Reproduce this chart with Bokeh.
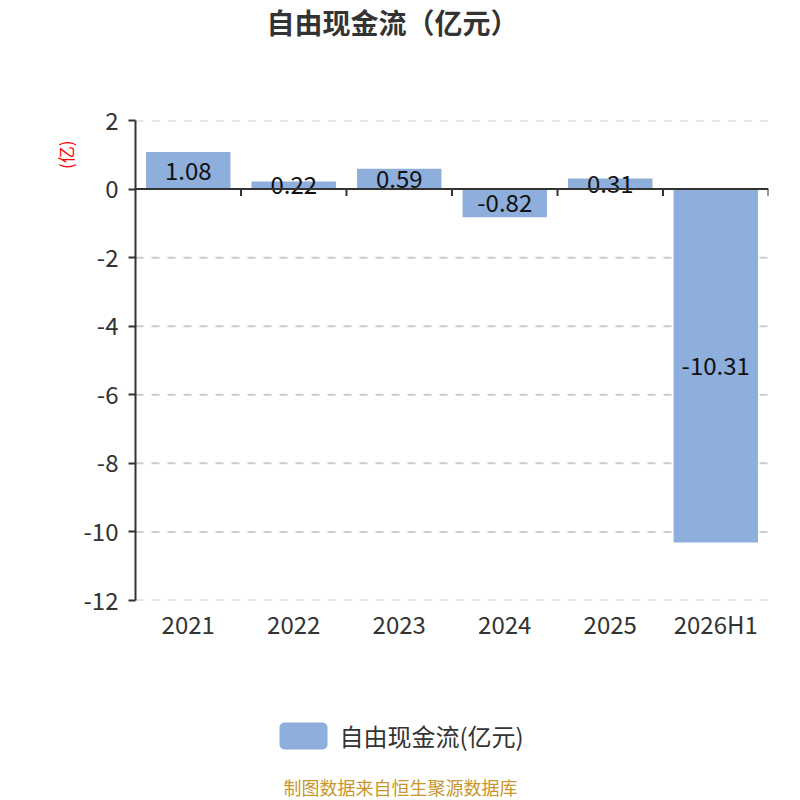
import math
from bokeh.plotting import figure
from bokeh.layouts import column
from bokeh.models import ColumnDataSource, Span, FixedTicker, LinearAxis
from bokeh.embed import file_html
from bokeh.resources import INLINE
from bokeh.core.properties import value

categories = ["2021", "2022", "2023", "2024", "2025", "2026H1"]
values = [1.08, 0.22, 0.59, -0.82, 0.31, -10.31]
value_labels = ["1.08", "0.22", "0.59", "-0.82", "0.31", "-10.31"]
y_ticks = [-12, -10, -8, -6, -4, -2, 0, 2]
title_text = "自由现金流（亿元）"
series_name = "自由现金流(亿元)"
unit_text = "(亿)"
footer_text = "制图数据来自恒生聚源数据库"

FONT = "Noto Sans CJK SC"
BAR = "#8eaedb"
W = 800
FRAME_L, FRAME_R = 135, 768


def blank(height):
    # column layout aligns frames with the main chart, so map page pixels onto that frame
    f = figure(width=W, height=height, output_backend="svg", toolbar_location=None,
               x_range=(FRAME_L, FRAME_R), y_range=(height, 0), min_border=0,
               min_border_left=FRAME_L, min_border_right=W - FRAME_R,
               x_axis_type=None, y_axis_type=None)
    f.outline_line_color = None
    f.grid.visible = False
    return f


# ---- title strip ----
top = blank(100)
top.text(x=[392], y=[21], text=[title_text], text_align="center", text_baseline="middle",
         text_font=value(FONT), text_font_size="28px", text_font_style="bold",
         text_color="#333333")

# ---- main chart ----
n = len(categories)
xs = [i + 0.5 for i in range(n)]
src = ColumnDataSource(dict(x=xs, top=values, mid=[v / 2 for v in values], lab=value_labels))

p = figure(width=W, height=560, output_backend="svg", toolbar_location=None,
           x_range=(0, n), y_range=(-12, 2),
           min_border_left=FRAME_L, min_border_right=W - FRAME_R, min_border_top=20,
           min_border_bottom=60, x_axis_type=None, y_axis_type=None)
p.outline_line_color = None

yax = LinearAxis(ticker=FixedTicker(ticks=y_ticks))
yax.major_label_overrides = {t: str(t) for t in y_ticks}
yax.axis_line_color = "#333333"
yax.axis_line_width = 2
yax.major_tick_line_color = "#333333"
yax.major_tick_line_width = 2
yax.major_tick_out = 7
yax.major_tick_in = 0
yax.minor_tick_line_color = None
yax.major_label_text_font = FONT
yax.major_label_text_font_size = "24px"
yax.major_label_text_color = "#333333"
yax.major_label_standoff = 10
p.add_layout(yax, "left")

uax = LinearAxis(ticker=FixedTicker(ticks=[1]))
uax.major_label_overrides = {1: unit_text}
uax.major_label_orientation = "vertical"
uax.axis_line_color = None
uax.major_tick_line_color = None
uax.minor_tick_line_color = None
uax.major_tick_out = 0
uax.major_tick_in = 0
uax.major_label_standoff = 2
uax.major_label_text_font = FONT
uax.major_label_text_font_size = "17px"
uax.major_label_text_color = "#ff0000"
p.add_layout(uax, "left")

xax = LinearAxis(ticker=FixedTicker(ticks=xs))
xax.major_label_overrides = {x: c for x, c in zip(xs, categories)}
xax.axis_line_color = None
xax.major_tick_line_color = None
xax.minor_tick_line_color = None
xax.major_tick_out = 0
xax.major_tick_in = 0
xax.major_label_text_font = FONT
xax.major_label_text_font_size = "24px"
xax.major_label_text_color = "#333333"
xax.major_label_standoff = 5
p.add_layout(xax, "below")

for t in y_ticks:
    if t != 0:
        p.add_layout(Span(location=t, dimension="width", line_color="#cccccc",
                          line_dash="8 8", line_width=2, level="underlay"))

p.vbar(x="x", top="top", bottom=0, width=0.8, source=src, fill_color=BAR, line_color=None)

p.add_layout(Span(location=0, dimension="width", line_color="#333333", line_width=2))
tick_len = 7 * 14 / 480
bx = list(range(1, n + 1))
p.segment(x0=bx, x1=bx, y0=[0] * len(bx), y1=[-tick_len] * len(bx),
          line_color="#333333", line_width=2)

p.text(x="x", y="mid", text="lab", source=src, text_align="center", text_baseline="middle",
       text_font=value(FONT), text_font_size="24px", text_color="#111111")

# ---- legend + footer strip ----
bot = blank(140)
bot.quad(left=[279], right=[327], top=[62], bottom=[89], fill_color=BAR, line_color=None,
         border_radius=5)
bot.text(x=[339], y=[75], text=[series_name], text_align="left", text_baseline="middle",
         text_font=value(FONT), text_font_size="24px", text_color="#333333")
bot.text(x=[400], y=[126], text=[footer_text], text_align="center", text_baseline="middle",
         text_font=value(FONT), text_font_size="18px", text_color="#c9962c")

layout = column(top, p, bot, spacing=0)
open("out.html", "w").write(file_html(layout, INLINE))
